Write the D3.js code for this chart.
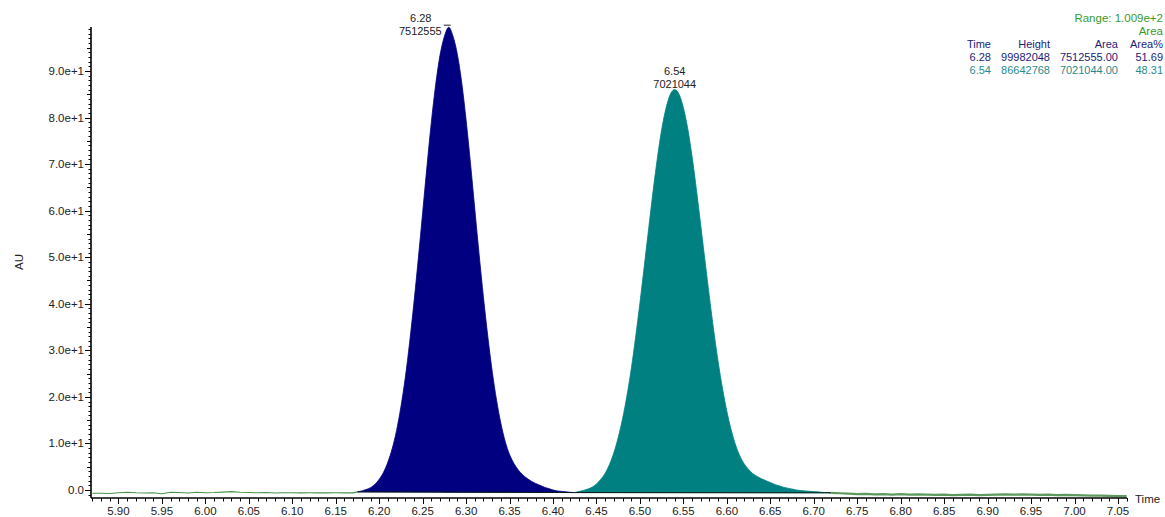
<!DOCTYPE html>
<html><head><meta charset="utf-8">
<script src="https://cdn.jsdelivr.net/npm/d3@7"></script>
<style>
html,body{margin:0;padding:0;background:#fff;}
svg{display:block;font-family:"Liberation Sans",Arial,sans-serif;}
</style></head>
<body>
<svg id="chart" width="1165" height="517"></svg>
<script>
// ---- data ----
const trace = [
 [5.870,-0.70],[5.880,-0.70],[5.890,-0.75],[5.900,-0.60],[5.910,-0.50],[5.920,-0.60],[5.930,-0.65],
 [5.940,-0.60],[5.950,-0.80],[5.960,-0.50],[5.970,-0.55],[5.980,-0.65],[5.990,-0.50],[6.000,-0.60],
 [6.010,-0.55],[6.020,-0.45],[6.030,-0.35],[6.040,-0.50],[6.050,-0.55],[6.060,-0.60],[6.070,-0.55],
 [6.080,-0.65],[6.090,-0.60],[6.100,-0.60],[6.110,-0.62],[6.120,-0.60],[6.130,-0.62],[6.140,-0.62],
 [6.150,-0.60],[6.160,-0.62],[6.170,-0.62],
 [6.175,-0.4],[6.180,-0.2],[6.185,0.1],[6.190,0.5],[6.195,1.2],[6.200,2.3],[6.205,3.8],[6.210,6.0],
 [6.215,8.9],[6.220,12.8],[6.225,17.9],[6.230,24.1],[6.235,31.7],[6.240,40.3],[6.245,49.7],
 [6.250,59.6],[6.255,69.6],[6.260,79.0],[6.265,87.1],[6.270,93.4],[6.275,97.4],[6.280,99.4],
 [6.285,97.4],[6.290,93.5],[6.295,87.4],[6.300,79.4],[6.305,70.2],[6.310,60.3],[6.315,50.5],
 [6.320,41.3],[6.325,32.9],[6.330,25.5],[6.335,19.3],[6.340,14.3],[6.345,10.4],[6.350,7.6],
 [6.355,5.7],[6.360,4.3],[6.365,3.3],[6.370,2.5],[6.375,1.9],[6.380,1.4],[6.385,1.0],[6.390,0.6],
 [6.395,0.3],[6.400,0.0],[6.405,-0.2],[6.410,-0.3],[6.415,-0.4],[6.420,-0.5],[6.425,-0.55],
 [6.430,-0.3],[6.435,-0.1],[6.440,0.2],[6.445,0.6],[6.450,1.3],[6.455,2.3],[6.460,3.6],[6.465,5.5],
 [6.470,8.0],[6.475,11.3],[6.480,15.3],[6.485,20.2],[6.490,26.0],[6.495,32.8],[6.500,40.2],
 [6.505,48.1],[6.510,56.1],[6.515,64.0],[6.520,71.2],[6.525,77.4],[6.530,82.0],[6.535,85.0],
 [6.540,86.0],[6.545,85.0],[6.550,82.1],[6.555,77.6],[6.560,71.6],[6.565,64.5],[6.570,56.8],
 [6.575,49.0],[6.580,41.3],[6.585,34.1],[6.590,27.5],[6.595,21.8],[6.600,16.9],[6.605,12.9],
 [6.610,9.7],[6.615,7.3],[6.620,5.6],[6.625,4.4],[6.630,3.5],[6.635,2.9],[6.640,2.4],[6.645,2.0],
 [6.650,1.6],[6.655,1.2],[6.660,0.9],[6.665,0.6],[6.670,0.4],[6.675,0.2],[6.680,0.0],[6.690,-0.2],
 [6.700,-0.35],[6.710,-0.5],[6.720,-0.6],
 [6.730,-0.70],[6.740,-0.80],[6.750,-0.90],[6.760,-0.85],[6.770,-0.95],[6.780,-0.90],[6.790,-1.00],
 [6.800,-0.90],[6.810,-1.00],[6.820,-0.95],[6.830,-1.00],[6.840,-1.05],[6.850,-1.00],[6.860,-1.10],
 [6.870,-1.05],[6.880,-1.00],[6.890,-1.10],[6.900,-1.05],[6.910,-1.00],[6.920,-0.95],[6.930,-1.00],
 [6.940,-0.95],[6.950,-1.00],[6.960,-1.05],[6.970,-1.00],[6.980,-1.10],[6.990,-1.05],[7.000,-1.10],
 [7.010,-1.15],[7.020,-1.20],[7.030,-1.20],[7.040,-1.25],[7.050,-1.30],[7.060,-1.30]
];
const peakRT     = [6.28, 6.54];
const peakStart  = [6.175, 6.425];
const peakEnd    = [6.425, 6.720];
const peakLabel  = ["7512555", "7021044"];
const peakColors = ["#000080", "#008080"];
const tableHead  = ["Time", "Height", "Area", "Area%"];
const tableRows  = [
  ["6.28", "99982048", "7512555.00", "51.69"],
  ["6.54", "86642768", "7021044.00", "48.31"]
];
const rangeText  = "Range: 1.009e+2";
const xMajor = d3.range(0, 24).map(i => +(5.90 + i * 0.05).toFixed(2));
const xMinor = d3.range(-3, 117).map(i => +(5.90 + i * 0.01).toFixed(2));
const yMajor = [0, 10, 20, 30, 40, 50, 60, 70, 80, 90];
const yMinor = d3.range(-1, 100, 1);

// ---- drawing ----
const svg = d3.select("#chart");
const x = d3.scaleLinear().domain([5.8684, 7.0604]).range([91, 1127]);
const y = d3.scaleLinear().domain([-1.72, 99.44]).range([498, 27]);
const valAt = t => {
  const b = d3.bisector(d => d[0]).left(trace, t);
  const p = trace[Math.min(b, trace.length - 1)];
  return p[1];
};

// peaks (filled to their integration baseline)
peakRT.forEach((rt, i) => {
  const s = peakStart[i], e = peakEnd[i];
  const vs = valAt(s), ve = valAt(e);
  const pts = trace.filter(d => d[0] >= s - 1e-9 && d[0] <= e + 1e-9);
  const base = t => vs + (ve - vs) * (t - s) / (e - s);
  svg.append("path").datum(pts)
    .attr("d", d3.area().curve(d3.curveMonotoneX).x(d => x(d[0])).y0(d => y(base(d[0]))).y1(d => y(d[1])))
    .attr("fill", peakColors[i]).attr("stroke", peakColors[i]).attr("stroke-width", 0.8);
  svg.append("line")
    .attr("x1", x(s)).attr("x2", x(e)).attr("y1", y(vs)).attr("y2", y(ve))
    .attr("stroke", "#0a1a10").attr("stroke-width", 1);
});

// chromatogram trace
svg.append("path").datum(trace.filter(d => d[0] <= peakStart[0] + 0.001))
  .attr("d", d3.line().x(d => x(d[0])).y(d => y(d[1])))
  .attr("fill", "none").attr("stroke", "#4a944a").attr("stroke-width", 1.1);
svg.append("path").datum(trace.filter(d => d[0] >= peakEnd[1] - 0.001))
  .attr("d", d3.line().x(d => x(d[0])).y(d => y(d[1])))
  .attr("fill", "none").attr("stroke", "#5d9a5d").attr("stroke-width", 2.2);

// peak annotations
const apex0 = [x(peakRT[0]), y(valAt(peakRT[0]))];
svg.append("line").attr("x1", apex0[0] - 5).attr("x2", apex0[0] + 2)
  .attr("y1", apex0[1] - 2).attr("y2", apex0[1] - 2).attr("stroke", "#222").attr("stroke-width", 1);
svg.append("text").attr("x", apex0[0] - 28).attr("y", 22).attr("text-anchor", "middle")
  .attr("font-size", 11).attr("fill", "#222").text(peakRT[0].toFixed(2));
svg.append("text").attr("x", apex0[0] - 7).attr("y", 35).attr("text-anchor", "end")
  .attr("font-size", 11).attr("fill", "#222").text(peakLabel[0]);
const apex1 = [x(peakRT[1]), y(valAt(peakRT[1]))];
svg.append("text").attr("x", apex1[0]).attr("y", apex1[1] - 15).attr("text-anchor", "middle")
  .attr("font-size", 11).attr("fill", "#222").text(peakRT[1].toFixed(2));
svg.append("text").attr("x", apex1[0]).attr("y", apex1[1] - 2).attr("text-anchor", "middle")
  .attr("font-size", 11).attr("fill", "#222").text(peakLabel[1]);

// y axis
const gy = svg.append("g");
gy.append("line").attr("x1", 91).attr("x2", 91).attr("y1", 27).attr("y2", 498)
  .attr("stroke", "#000").attr("stroke-width", 1.6);
gy.selectAll("line.mn").data(yMinor).join("line").attr("class", "mn")
  .attr("x1", d => d % 10 === 0 ? 85 : (d % 5 === 0 ? 87 : 88.5)).attr("x2", 91)
  .attr("y1", d => Math.round(y(d)) + 0.5).attr("y2", d => Math.round(y(d)) + 0.5)
  .attr("stroke", "#000").attr("stroke-width", 1);
gy.selectAll("text").data(yMajor).join("text")
  .attr("x", 84).attr("y", d => y(d)).attr("dy", "0.35em").attr("text-anchor", "end")
  .attr("font-size", 11.5).attr("fill", "#222")
  .text(d => d === 0 ? "0.0" : d.toExponential(1));
svg.append("text").attr("transform", "translate(23,262) rotate(-90)")
  .attr("text-anchor", "middle").attr("font-size", 11.5).attr("fill", "#222").text("AU");

// x axis
const gx = svg.append("g");
gx.append("line").attr("x1", 91).attr("x2", 1127).attr("y1", 498).attr("y2", 498)
  .attr("stroke", "#000").attr("stroke-width", 1.6);
gx.selectAll("line.mn").data(xMinor.filter(d => x(d) >= 91 && x(d) <= 1127)).join("line").attr("class", "mn")
  .attr("x1", d => Math.round(x(d)) + 0.5).attr("x2", d => Math.round(x(d)) + 0.5)
  .attr("y1", 498).attr("y2", d => xMajor.includes(d) ? 504 : 501.5)
  .attr("stroke", "#000").attr("stroke-width", 1);
gx.selectAll("text").data(xMajor).join("text")
  .attr("x", d => x(d)).attr("y", 515).attr("text-anchor", "middle")
  .attr("font-size", 11.5).attr("fill", "#222").text(d => d.toFixed(2));
svg.append("text").attr("x", 1135).attr("y", 503).attr("font-size", 11.5).attr("fill", "#222").text("Time");

// results table (top right)
const colX = [991, 1050, 1118, 1163];
svg.append("text").attr("x", 1163).attr("y", 22).attr("text-anchor", "end")
  .attr("font-size", 11.5).attr("fill", "#3a9a2a").text(rangeText);
svg.append("text").attr("x", 1163).attr("y", 35).attr("text-anchor", "end")
  .attr("font-size", 11.5).attr("fill", "#3a9a2a").text("Area");
tableHead.forEach((h, j) => svg.append("text").attr("x", colX[j]).attr("y", 48)
  .attr("text-anchor", "end").attr("font-size", 11).attr("fill", "#1c1c78").text(h));
const rowColors = ["#1c1c78", "#2a8a8a"];
tableRows.forEach((r, i) => r.forEach((c, j) => svg.append("text").attr("x", colX[j])
  .attr("y", 61 + i * 12.5).attr("text-anchor", "end").attr("font-size", 11)
  .attr("fill", rowColors[i]).text(c)));
</script>
</body></html>
